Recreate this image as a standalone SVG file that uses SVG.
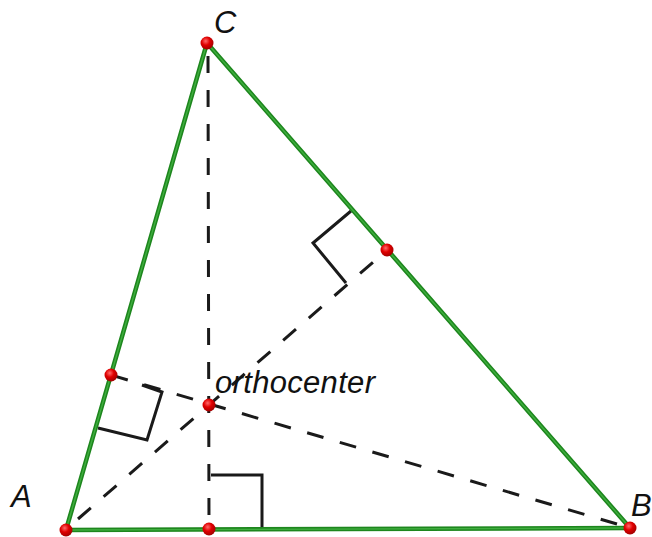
<svg xmlns="http://www.w3.org/2000/svg" width="652" height="537" viewBox="0 0 652 537">
<defs>
<radialGradient id="dotg" cx="0.4" cy="0.35" r="0.7">
<stop offset="0" stop-color="#ff6a6a"/>
<stop offset="0.45" stop-color="#e00000"/>
<stop offset="1" stop-color="#9a0000"/>
</radialGradient>
<style>
.side{stroke:#1d861d;stroke-width:4.5;fill:none;stroke-linecap:round}
.side2{stroke:#3fae3f;stroke-width:1.4;fill:none}
.alt{stroke:#1a1a1a;stroke-width:3;fill:none;stroke-dasharray:17 17}
.ra{stroke:#1a1a1a;stroke-width:3;fill:none;stroke-linejoin:miter}
.dot{fill:url(#dotg)}
.lbl{font-family:"Liberation Sans",Arial,sans-serif;font-style:italic;font-size:29px;fill:#111}
.big{font-size:31px}
</style>
</defs>
<rect width="652" height="537" fill="#ffffff"/>
<g id="connectors">
<line class="alt" x1="208" y1="56" x2="209" y2="528"/>
<line class="alt" x1="78" y1="519" x2="387" y2="250"/>
<line class="alt" x1="617" y1="524" x2="111" y2="375"/>
<polyline class="ra" points="351,211 313,243 346,283"/>
<polyline class="ra" points="98,428 147,440 162,392 142,385"/>
<polyline class="ra" points="211,475 262,475 262,528"/>
<line class="side" x1="66" y1="530" x2="207" y2="43"/>
<line class="side" x1="207" y1="43" x2="630" y2="528"/>
<line class="side" x1="66" y1="530" x2="630" y2="528"/>
<line class="side2" x1="66" y1="530" x2="207" y2="43"/>
<line class="side2" x1="207" y1="43" x2="630" y2="528"/>
<line class="side2" x1="66" y1="530" x2="630" y2="528"/>
</g>
<g id="A"><circle class="dot" cx="66" cy="530" r="6.5"/><text class="lbl big" x="11" y="507">A</text></g>
<g id="B"><circle class="dot" cx="630" cy="528" r="6.5"/><text class="lbl big" x="631" y="516">B</text></g>
<g id="C"><circle class="dot" cx="207" cy="43" r="6.5"/><text class="lbl big" x="214" y="33">C</text></g>
<g id="H"><circle class="dot" cx="209" cy="405" r="6.5"/><text class="lbl big" x="215" y="393" textLength="160">orthocenter</text></g>
<g id="FootAB"><circle class="dot" cx="209" cy="529" r="6.5"/></g>
<g id="FootBC"><circle class="dot" cx="387" cy="250" r="6.5"/></g>
<g id="FootAC"><circle class="dot" cx="111" cy="375" r="6.5"/></g>
</svg>
